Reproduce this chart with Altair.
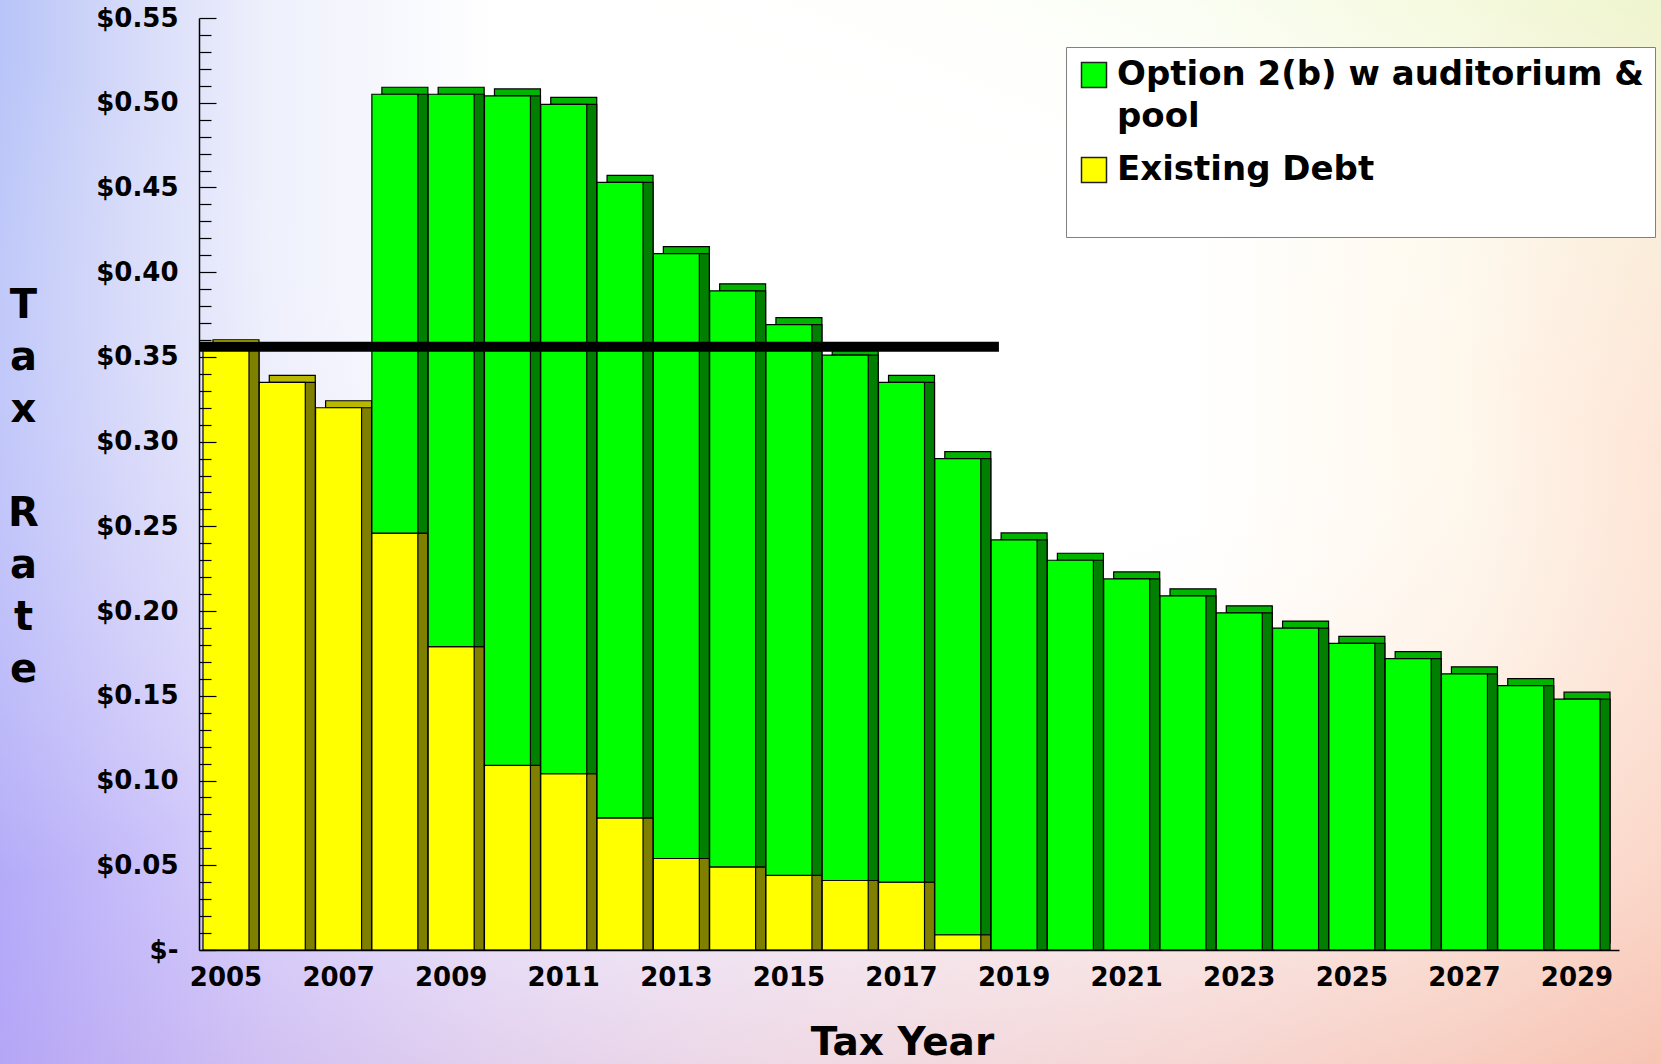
import json
import altair as alt
import pandas as pd

# ---------------- data ----------------
YEARS = [2005, 2006, 2007, 2008, 2009, 2010, 2011, 2012, 2013, 2014, 2015, 2016,
         2017, 2018, 2019, 2020, 2021, 2022, 2023, 2024, 2025, 2026, 2027, 2028, 2029]
EXISTING_DEBT = [0.356, 0.335, 0.320, 0.246, 0.179, 0.109, 0.104, 0.078, 0.054, 0.049,
                 0.044, 0.041, 0.040, 0.009, 0, 0, 0, 0, 0, 0, 0, 0, 0, 0, 0]
OPTION_2B = [0, 0, 0, 0.259, 0.326, 0.395, 0.395, 0.375, 0.357, 0.340, 0.325, 0.310,
             0.295, 0.281, 0.242, 0.230, 0.219, 0.209, 0.199, 0.190, 0.181, 0.172,
             0.163, 0.156, 0.148]
SERIES = ["Option 2(b) w auditorium & pool", "Existing Debt"]

THRESHOLD_RATE = 0.356
THRESHOLD_START = 2005
THRESHOLD_END = 2019

X_LABEL_YEARS = [2005, 2007, 2009, 2011, 2013, 2015, 2017, 2019, 2021, 2023, 2025, 2027, 2029]
Y_TICKS = [0.0, 0.05, 0.10, 0.15, 0.20, 0.25, 0.30, 0.35, 0.40, 0.45, 0.50, 0.55]
Y_TICK_LABELS = ["$-\u00a0\u00a0\u00a0", "$0.05", "$0.10", "$0.15", "$0.20", "$0.25",
                 "$0.30", "$0.35", "$0.40", "$0.45", "$0.50", "$0.55"]
Y_TITLE_WORD1 = ["T", "a", "x"]
Y_TITLE_WORD2 = ["R", "a", "t", "e"]
X_TITLE = "Tax Year"

# ---------------- styles ----------------
FONT = "DejaVu Sans"
FRONT_COLORS = ["#00ff00", "#ffff00"]
TOP_COLORS = ["#00b400", "#b8b800"]
SIDE_COLORS = ["#007f00", "#7f7f00"]
W, H = 1420, 932
PAD = {"left": 199, "top": 18, "right": 42, "bottom": 114}
DEPTH_X, DEPTH_Y = 10, 7
Y_TITLE_STYLE = dict(titleAngle=0, titleAlign="center", titleBaseline="alphabetic",
                     titleX=-176, titleLineHeight=52, titleFont=FONT, titleFontSize=40,
                     titleFontWeight="bold", titleColor="black")

rows = []
for yr, d, o in zip(YEARS, EXISTING_DEBT, OPTION_2B):
    if d > 0:
        rows.append({"year": yr, "series": SERIES[1], "y0": 0.0, "y1": d})
    if o > 0:
        rows.append({"year": yr, "series": SERIES[0], "y0": d, "y1": round(d + o, 4)})
df = pd.DataFrame(rows)

x_scale = alt.Scale(domain=YEARS, paddingInner=0.183, paddingOuter=0.204, align=0.174)
y_scale = alt.Scale(domain=[0, 0.55], nice=False, zero=True)

x_axis = alt.Axis(values=X_LABEL_YEARS, title=X_TITLE, labelFont=FONT, labelFontWeight="bold",
                  labelFontSize=26, labelColor="black", labelPadding=14, labelAngle=0,
                  ticks=False, tickSize=0, domainColor="black", domainWidth=1.5,
                  titleFont=FONT, titleFontWeight="bold", titleFontSize=39, titleColor="black",
                  titleX=703, titleAlign="center",
                  titleY=104, titleBaseline="alphabetic", grid=False, zindex=1)

label_expr = json.dumps(Y_TICK_LABELS, ensure_ascii=False) + "[round(datum.value*20)]"
y_axis = alt.Axis(values=Y_TICKS, labelExpr=label_expr, ticks=False, tickSize=0,
                  labelPadding=21, labelFont=FONT, labelFontSize=26, labelFontWeight="bold",
                  labelColor="black", labelFlush=False, labelOverlap=False,
                  domainColor="black", domainWidth=1.5,
                  title=Y_TITLE_WORD1, titleY=299, grid=False, zindex=1, **Y_TITLE_STYLE)

minor_ticks = [round(i * 0.01, 2) for i in range(56)]
tick_axis = alt.Axis(orient="right", offset=-W, values=minor_ticks, labels=False, domain=False,
                     ticks=True, tickColor="black", tickWidth=1.2,
                     tickSize={"condition": {"test": "round(datum.value*100) % 5 == 0", "value": 17},
                               "value": 12},
                     title=Y_TITLE_WORD2, titleY=299 + 4 * 52, grid=False, zindex=2,
                     **Y_TITLE_STYLE)

legend = alt.Legend(orient="none", legendX=867, legendY=29, title="\u00a0", titleOrient="bottom",
                    titleFontSize=32, titlePadding=8, fillColor="white",
                    strokeColor="#808080", padding=11, labelFont=FONT, labelFontWeight="bold",
                    labelFontSize=34, labelColor="black", labelLimit=900, labelOffset=6,
                    symbolType="square", symbolSize=625, symbolStrokeColor="#222222",
                    symbolStrokeWidth=1.5, rowPadding=19,
                    labelExpr="datum.label == 'Option 2(b) w auditorium & pool' ? "
                              "['Option 2(b) w auditorium &', 'pool'] : datum.label")

X = alt.X("year:O", scale=x_scale, axis=x_axis)
Y = alt.Y("y1:Q", scale=y_scale, axis=y_axis)
Y2 = alt.Y2("y0:Q")

# ---------------- background gradient ----------------
def bg_layer(grad):
    return alt.Chart(pd.DataFrame({"k": [0]})).mark_rect(fill=grad, strokeWidth=0).encode(
        x=alt.value(-PAD["left"]), x2=alt.value(W + PAD["right"]),
        y=alt.value(-PAD["top"]), y2=alt.value(H + PAD["bottom"]))

GS = alt.GradientStop
bg1 = bg_layer(alt.LinearGradient(gradient="linear", x1=0, y1=0, x2=1, y2=0, stops=[
    GS(color="#b8c4f8", offset=0), GS(color="#d3d8f9", offset=0.07),
    GS(color="#eef0fc", offset=0.16), GS(color="#ffffff", offset=0.3),
    GS(color="#ffffff", offset=0.72), GS(color="#fff8ec", offset=0.88),
    GS(color="#fde3d2", offset=1)]))
bg2 = bg_layer(alt.LinearGradient(gradient="linear", x1=0, y1=1, x2=0.45, y2=0.35, stops=[
    GS(color="rgba(160,138,248,0.85)", offset=0), GS(color="rgba(195,175,250,0.45)", offset=0.35),
    GS(color="rgba(255,255,255,0)", offset=1)]))
bg3 = bg_layer(alt.LinearGradient(gradient="linear", x1=1, y1=1, x2=0.7, y2=0.45, stops=[
    GS(color="rgba(247,190,172,0.85)", offset=0), GS(color="rgba(255,255,255,0)", offset=1)]))
bg4 = bg_layer(alt.LinearGradient(gradient="linear", x1=1, y1=0, x2=0.8, y2=0.3, stops=[
    GS(color="rgba(235,250,205,0.8)", offset=0), GS(color="rgba(255,255,255,0)", offset=1)]))

# ---------------- 3D-looking bars ----------------
base = alt.Chart(df)
depth = base.mark_bar(xOffset=DEPTH_X, x2Offset=DEPTH_X, yOffset=-DEPTH_Y, y2Offset=-DEPTH_Y,
                      stroke="black", strokeWidth=1.2, opacity=1).encode(
    x=X, y=Y, y2=Y2,
    color=alt.Color("series:N", scale=alt.Scale(domain=SERIES, range=TOP_COLORS), legend=None))
side = base.mark_bar(xOffset=DEPTH_X, x2Offset=DEPTH_X, stroke="black", strokeWidth=1.2,
                     opacity=1).encode(
    x=X, y=Y, y2=Y2,
    color=alt.Color("series:N", scale=alt.Scale(domain=SERIES, range=SIDE_COLORS), legend=None))
front = base.mark_bar(stroke="black", strokeWidth=1.2, opacity=1).encode(
    x=X, y=Y, y2=Y2,
    color=alt.Color("series:N", scale=alt.Scale(domain=SERIES, range=FRONT_COLORS), legend=legend))

bars = alt.layer(bg1, bg2, bg3, bg4, depth, side, front).resolve_scale(color="independent")

rule_df = pd.DataFrame({"year": [THRESHOLD_START], "year_end": [THRESHOLD_END],
                        "rate": [THRESHOLD_RATE]})
rule = alt.Chart(rule_df).mark_rule(color="black", strokeWidth=10, xOffset=-4).encode(
    x=alt.X("year:O", scale=x_scale, axis=x_axis, bandPosition=0),
    x2=alt.X2("year_end:O", bandPosition=0.17),
    y=alt.Y("rate:Q", scale=y_scale, axis=tick_axis))

chart = alt.layer(bars, rule).resolve_scale(y="independent", color="independent").properties(
    width=W, height=H, padding=PAD, autosize=alt.AutoSizeParams(type="none"),
    background="white").configure_view(stroke=None).configure(
    style={"guide-label": {"lineHeight": 42}})

chart.save("out.html", embed_options={"renderer": "svg", "actions": False})
